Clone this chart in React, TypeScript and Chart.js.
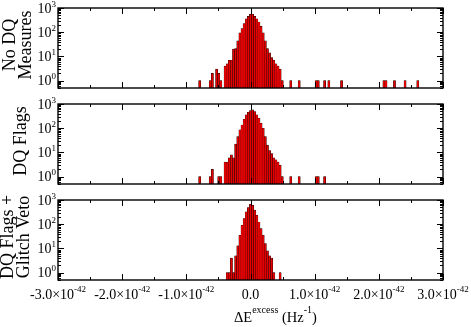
import React, { useEffect, useRef } from "react";
import { Chart, registerables } from "chart.js";

Chart.register(...registerables);

// ---- data (x in units of 1e-42 Hz^-1, bin centres; y = counts) ----
const X_EXPONENT = "-42";
const X_TICKS = [-3, -2, -1, 0, 1, 2, 3];
const X_MINOR_TICKS = [-2.5, -1.5, -0.5, 0.5, 1.5, 2.5];
const Y_TICKS = [1, 10, 100, 1000];
const Y_MIN = 0.5;
const Y_MAX = 1000;

const P1_X = [-0.792, -0.627, -0.594, -0.528, -0.495, -0.462,
  -0.396, -0.363, -0.33, -0.297, -0.264, -0.231, -0.198, -0.165, -0.132, -0.099, -0.066, -0.033,
  0, 0.033, 0.066, 0.099, 0.132, 0.165, 0.198, 0.231, 0.264, 0.297, 0.33, 0.363, 0.396, 0.429, 0.462, 0.495,
  0.627, 0.759, 1.023, 1.056, 1.155, 1.221, 1.419, 2.079, 2.112, 2.244, 2.409, 2.607];
const P1_Y = [1, 1, 2, 3, 2, 1,
  4, 5, 7, 7, 20, 21, 44, 94, 141, 227, 355, 454,
  545, 550, 454, 355, 265, 175, 94, 44, 21, 14, 9, 7, 5, 4, 3, 1,
  1, 1, 1, 1, 1, 1, 1, 1, 1, 1, 1, 1];

const P2_X = [-0.792, -0.627, -0.594, -0.495, -0.462,
  -0.396, -0.363, -0.33, -0.297, -0.264, -0.231, -0.198, -0.165, -0.132, -0.099, -0.066, -0.033,
  0, 0.033, 0.066, 0.099, 0.132, 0.165, 0.198, 0.231, 0.264, 0.297, 0.33, 0.363, 0.396, 0.429, 0.462, 0.495,
  0.627, 0.759, 1.023, 1.056, 1.155];
const P2_Y = [1, 1, 2, 1, 1,
  4, 4, 6, 8, 6, 22, 45, 85, 136, 235, 355, 458,
  535, 570, 485, 355, 258, 160, 100, 45, 20, 12, 9, 6, 5, 4, 3, 1,
  1, 1, 1, 1, 1];

const P3_X = [-0.363, -0.33, -0.297, -0.264, -0.231, -0.198, -0.165, -0.132, -0.099, -0.066, -0.033,
  0, 0.033, 0.066, 0.099, 0.132, 0.165, 0.198, 0.231, 0.264, 0.297, 0.33, 0.363,
  0.462];
const P3_Y = [1, 1, 4, 1, 5, 13, 35, 91, 172, 322, 490,
  670, 610, 380, 235, 124, 66, 35, 16, 8, 5, 4, 1,
  1];

const P1_TITLE = ["No DQ", "Measures"];
const P2_TITLE = ["DQ Flags"];
const P3_TITLE = ["DQ Flags +", "Glitch Veto"];
const X_TITLE = [
  { t: "ΔE" },
  { t: "excess", sup: true },
  { t: " (Hz" },
  { t: "-1", sup: true },
  { t: ")" },
];

const W = 471;
const H = 327;
const FONT = '"Liberation Serif", "Times New Roman", serif';

type Part = { t: string; sup?: boolean };

function drawParts(
  ctx: CanvasRenderingContext2D,
  parts: Part[],
  x: number,
  baseline: number,
  align: "left" | "center" | "right",
  size: number,
  supSize: number,
  supRaise: number
) {
  const widths = parts.map((p) => {
    ctx.font = `${p.sup ? supSize : size}px ${FONT}`;
    return ctx.measureText(p.t).width;
  });
  const total = widths.reduce((a, b) => a + b, 0);
  let cx = align === "left" ? x : align === "center" ? x - total / 2 : x - total;
  ctx.textAlign = "left";
  ctx.textBaseline = "alphabetic";
  parts.forEach((p, i) => {
    ctx.font = `${p.sup ? supSize : size}px ${FONT}`;
    ctx.fillText(p.t, cx, p.sup ? baseline - supRaise : baseline);
    cx += widths[i];
  });
}

function makeAxesPlugin(title: string[], titleBase: number[], showX: boolean) {
  return {
    id: "gracePanel",
    afterDraw(chart: any) {
      const { ctx, chartArea, scales } = chart;
      const { left, right, top, bottom } = chartArea;
      const xs = scales.x;
      const ys = scales.y;
      ctx.save();
      ctx.strokeStyle = "#000";
      ctx.fillStyle = "#000";
      ctx.lineWidth = 1;
      // ticks x
      const xt = (v: number, len: number) => {
        const px = Math.round(xs.getPixelForValue(v)) + 0.5;
        ctx.beginPath();
        ctx.moveTo(px, bottom);
        ctx.lineTo(px, bottom - len);
        ctx.moveTo(px, top);
        ctx.lineTo(px, top + len);
        ctx.stroke();
      };
      X_TICKS.forEach((v) => xt(v, 6));
      X_MINOR_TICKS.forEach((v) => xt(v, 3));
      // ticks y
      for (let d = -1; d <= 3; d++) {
        for (let m = 1; m <= 9; m++) {
          const v = m * Math.pow(10, d);
          if (v < Y_MIN - 1e-9 || v > Y_MAX + 1e-9) continue;
          const py = Math.round(ys.getPixelForValue(v)) + 0.5;
          const len = m === 1 ? 6 : 3;
          ctx.beginPath();
          ctx.moveTo(left, py);
          ctx.lineTo(left + len, py);
          ctx.moveTo(right, py);
          ctx.lineTo(right - len, py);
          ctx.stroke();
        }
      }
      // frame
      ctx.lineWidth = 1.4;
      ctx.strokeRect(left, top, right - left, bottom - top);
      // y labels
      Y_TICKS.forEach((v) => {
        const py = ys.getPixelForValue(v);
        const e = String(Math.round(Math.log10(v)));
        drawParts(ctx, [{ t: "10" }, { t: e, sup: true }], left - 2, py + 4.5, "right", 14, 9, 6);
      });
      // y title
      const cy = (top + bottom) / 2 - 3;
      ctx.font = `18px ${FONT}`;
      ctx.textAlign = "center";
      ctx.textBaseline = "alphabetic";
      title.forEach((line, i) => {
        ctx.save();
        ctx.translate(titleBase[i], cy);
        ctx.rotate(-Math.PI / 2);
        ctx.fillText(line, 0, 0);
        ctx.restore();
      });
      if (showX) {
        X_TICKS.forEach((v) => {
          const px = xs.getPixelForValue(v);
          const parts: Part[] =
            v === 0 ? [{ t: "0.0" }] : [{ t: v.toFixed(1) + "×10" }, { t: X_EXPONENT, sup: true }];
          drawParts(ctx, parts, px, bottom + 18.5, "center", 14, 9, 7);
        });
        drawParts(ctx, X_TITLE, 234, 322, "left", 14.5, 10, 9);
      }
      ctx.restore();
    },
  };
}

type PanelDef = {
  xs: number[];
  ys: number[];
  title: string[];
  titleBase: number[];
  top: number;
  bottom: number;
  showX: boolean;
};

const PANELS: PanelDef[] = [
  { xs: P1_X, ys: P1_Y, title: P1_TITLE, titleBase: [15, 31], top: 8, bottom: 88, showX: false },
  { xs: P2_X, ys: P2_Y, title: P2_TITLE, titleBase: [26], top: 104, bottom: 184, showX: false },
  { xs: P3_X, ys: P3_Y, title: P3_TITLE, titleBase: [12.5, 29], top: 200, bottom: 280, showX: true },
];

export default function App() {
  const refs = [useRef<HTMLCanvasElement>(null), useRef<HTMLCanvasElement>(null), useRef<HTMLCanvasElement>(null)];
  useEffect(() => {
    const charts = PANELS.map((p, i) => {
      const canvas = refs[i].current!;
      return new Chart(canvas, {
        type: "bar",
        data: {
          datasets: [
            {
              data: p.xs.map((x, j) => ({ x, y: p.ys[j] })),
              backgroundColor: "#e60000",
              borderColor: "#000000",
              borderWidth: 0.4,
              barPercentage: 1,
              categoryPercentage: 1,
            } as any,
          ],
        },
        options: {
          responsive: false,
          animation: false,
          devicePixelRatio: 1,
          layout: { padding: { left: 58, right: W - 443, top: p.top, bottom: H - p.bottom } },
          plugins: { legend: { display: false }, tooltip: { enabled: false } },
          scales: {
            x: { type: "linear", min: -3, max: 3, display: false, offset: false },
            y: { type: "logarithmic", min: Y_MIN, max: Y_MAX, display: false },
          },
        } as any,
        plugins: [makeAxesPlugin(p.title, p.titleBase, p.showX)],
      });
    });
    return () => charts.forEach((c) => c.destroy());
  }, []);
  return (
    <div style={{ position: "absolute", left: 0, top: 0, width: W, height: H, background: "#fff" }}>
      {PANELS.map((_, i) => (
        <canvas
          key={i}
          ref={refs[i]}
          width={W}
          height={H}
          style={{ position: "absolute", left: 0, top: 0, width: W, height: H }}
        />
      ))}
    </div>
  );
}
